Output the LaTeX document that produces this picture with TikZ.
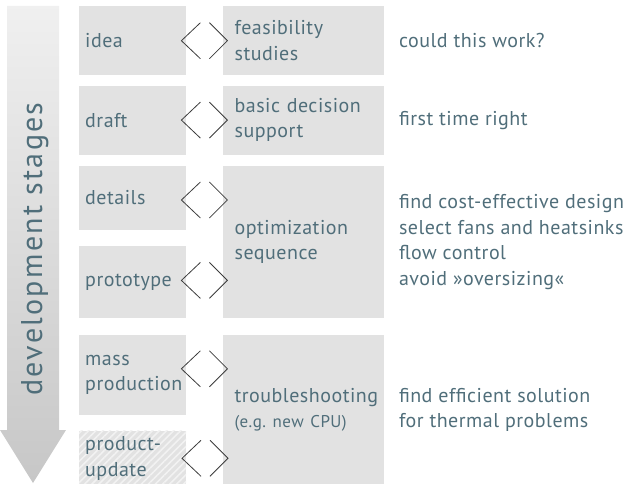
\documentclass[tikz,border=0pt]{standalone}
\usepackage{fontspec}
\setmainfont{PT Sans}[LetterSpace=2.5]
\newfontfamily\stagefont{PT Sans}[LetterSpace=7.5]
\usetikzlibrary{positioning, patterns.meta}
\definecolor{txtblue}{RGB}{80,110,122}
\definecolor{boxgray}{RGB}{226,226,226}
\definecolor{stripegray}{RGB}{242,242,242}
\definecolor{chevgray}{RGB}{60,60,60}
\begin{document}
\begin{tikzpicture}[x=1pt, y=-1pt,
    every node/.style={text=txtblue, font=\fontsize{20}{25.5}\selectfont},
    lbox/.style={fill=boxgray, inner xsep=6pt, inner ysep=0pt, text width=95pt, align=left},
    rbox/.style={fill=boxgray, inner xsep=12pt, inner ysep=0pt, text width=137pt, align=left},
    note/.style={inner sep=0pt, align=left, anchor=west},
    brk/.style={draw=chevgray, line width=0.8pt}]
    \useasboundingbox (0,0) rectangle (632,484);
    % stage arrow
    \shade[top color=black!6, bottom color=black!22]
        (7,6) -- (59,6) -- (59,430) -- (66,430) -- (33,483) -- (0,430) -- (7,430) -- cycle;
    \node[rotate=90, anchor=base, inner sep=0pt, font=\stagefont\fontsize{30}{32}\selectfont] (stages) at (42,249) {development stages};
    % stages
    \node[lbox, minimum height=69pt, anchor=north west] (idea) at (79,6) {idea};
    \node[lbox, minimum height=69pt, below=10pt of idea] (draft) {draft};
    \node[lbox, minimum height=64pt, below=11pt of draft] (details) {details};
    \node[lbox, minimum height=72pt, below=16pt of details] (proto) {prototype};
    \node[lbox, minimum height=80pt, below=16pt of proto] (mass) {mass\\production};
    \node[lbox, minimum height=55pt, below=15pt of mass, fill=none,
        preaction={fill=boxgray},
        pattern={Lines[angle=45, distance=5pt, line width=1.6pt]}, pattern color=stripegray] (update) {product-\\update};
    % tools
    \node[rbox, minimum height=69pt, right=36pt of idea] (feas) {feasibility\\studies};
    \node[rbox, minimum height=69pt, right=36pt of draft] (basic) {basic decision\\support};
    \node[rbox, minimum height=152pt, anchor=north west] (opt) at ([xshift=36pt]details.north east) {optimization\\sequence};
    \node[rbox, minimum height=150pt, anchor=north west] (trouble) at ([xshift=36pt]mass.north east)
        {troubleshooting\\{\fontsize{17}{25.5}\selectfont(e.g.\ new CPU)}};
    % goals
    \node[note, right=15pt of feas] (work) {could this work?};
    \node[note, right=15pt of basic] (right) {first time right};
    \node[note, right=15pt of opt] (design) {find cost-effective design\\select fans and heatsinks\\flow control\\avoid »oversizing«};
    \node[note, right=15pt of trouble] (thermal) {find efficient solution\\for thermal problems};
    % brackets
    \foreach \n/\dy in {idea/0, draft/0, details/2, proto/-2, mass/-6, update/0}
        \draw[brk] ([shift={(14,\dy-18)}]\n.east) -- ([shift={(-5,\dy)}]\n.east) -- ([shift={(14,\dy+18)}]\n.east)
                   ([shift={(23,\dy-18)}]\n.east) -- ([shift={(41,\dy)}]\n.east) -- ([shift={(23,\dy+18)}]\n.east);
\end{tikzpicture}
\end{document}
